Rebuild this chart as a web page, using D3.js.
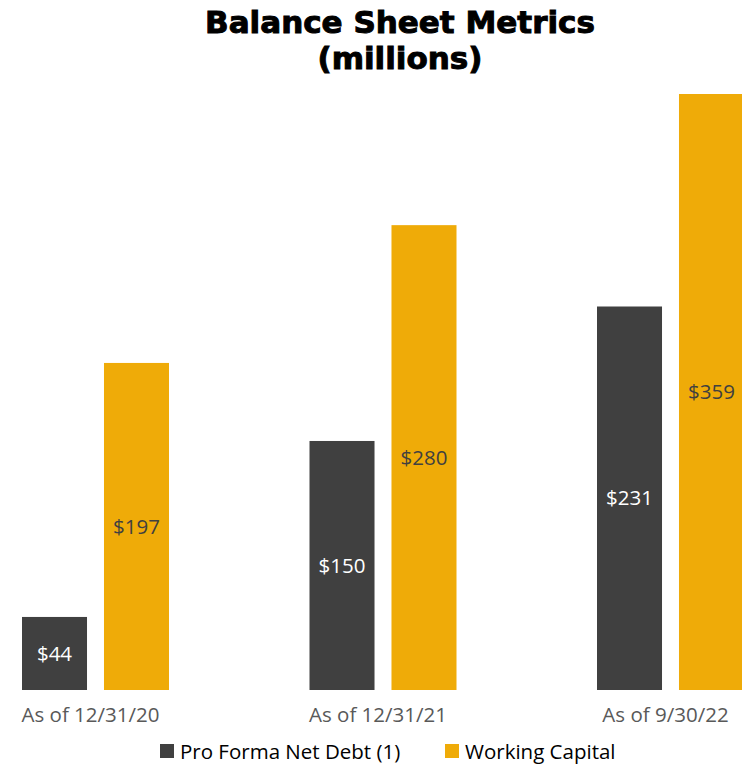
<!DOCTYPE html>
<html lang="en">
<head>
<script src="https://cdnjs.cloudflare.com/ajax/libs/d3/7.8.5/d3.min.js"></script>
<style>
  body { margin: 0; background: #fff; }
</style>
</head>
<body>
<script>
// data
var categories = ["As of 12/31/20", "As of 12/31/21", "As of 9/30/22"]
var seriesNames = ["Pro Forma Net Debt (1)", "Working Capital"]
var netDebt = [44, 150, 231]
var workingCapital = [197, 280, 359]

var width = 742
var height = 764
var colors = ["#404040", "#EFAB08"]
var labelColors = ["#ffffff", "#404040"]
var font = "'Open Sans', Lato, sans-serif"

var svg = d3.select("body").append("svg")
    .attr("width", width)
    .attr("height", height)
    .attr("font-family", font)

// group centres, chart is clipped on both sides in the original
var x0 = d3.scalePoint().domain(categories).range([95.5, 670.5])
var x1 = d3.scaleBand().domain(seriesNames).range([-73.5, 73.5]).paddingInner(0.207)
var y = d3.scaleLinear().domain([0, 359]).range([690, 94])

var rows = categories.map((c, i) => ({cat: c, values: [netDebt[i], workingCapital[i]]}))

var groups = svg.append("g").selectAll("g")
    .data(rows)
    .join("g")
    .attr("transform", d => `translate(${x0(d.cat)},0)`)

groups.selectAll("rect")
    .data(d => d.values.map((v, j) => ({series: seriesNames[j], j: j, v: v})))
    .join("rect")
    .attr("x", d => x1(d.series))
    .attr("y", d => y(d.v))
    .attr("width", x1.bandwidth())
    .attr("height", d => y(0) - y(d.v))
    .attr("fill", d => colors[d.j])

groups.selectAll("text.val")
    .data(d => d.values.map((v, j) => ({series: seriesNames[j], j: j, v: v})))
    .join("text")
    .attr("class", "val")
    .attr("x", d => x1(d.series) + x1.bandwidth() / 2)
    .attr("y", d => (y(d.v) + y(0)) / 2)
    .attr("dy", "0.35em")
    .attr("text-anchor", "middle")
    .attr("font-size", 20.5)
    .attr("fill", d => labelColors[d.j])
    .text(d => "$" + d.v)

// category axis labels
svg.append("g").selectAll("text")
    .data(categories)
    .join("text")
    .attr("x", d => x0(d) - 5)
    .attr("y", 722)
    .attr("text-anchor", "middle")
    .attr("font-size", 20.5)
    .attr("fill", "#595959")
    .text(d => d)

// title
var title = svg.append("g").attr("font-family", "'DejaVu Sans', sans-serif")
    .attr("font-weight", "bold").attr("font-size", 31).attr("text-anchor", "middle")
    .attr("stroke", "#000").attr("stroke-width", 1)
title.append("text").attr("x", 400).attr("y", 33).text("Balance Sheet Metrics")
title.append("text").attr("x", 400).attr("y", 69).text("(millions)")

// legend
var legendX = [160, 445]
var legend = svg.append("g").selectAll("g")
    .data(seriesNames)
    .join("g")
    .attr("transform", (d, i) => `translate(${legendX[i]},744)`)
legend.append("rect").attr("width", 14).attr("height", 14).attr("fill", (d, i) => colors[i])
legend.append("text")
    .attr("x", 20).attr("y", 15)
    .attr("font-size", 20.5)
    .attr("fill", "#000")
    .text(d => d)
</script>
</body>
</html>
